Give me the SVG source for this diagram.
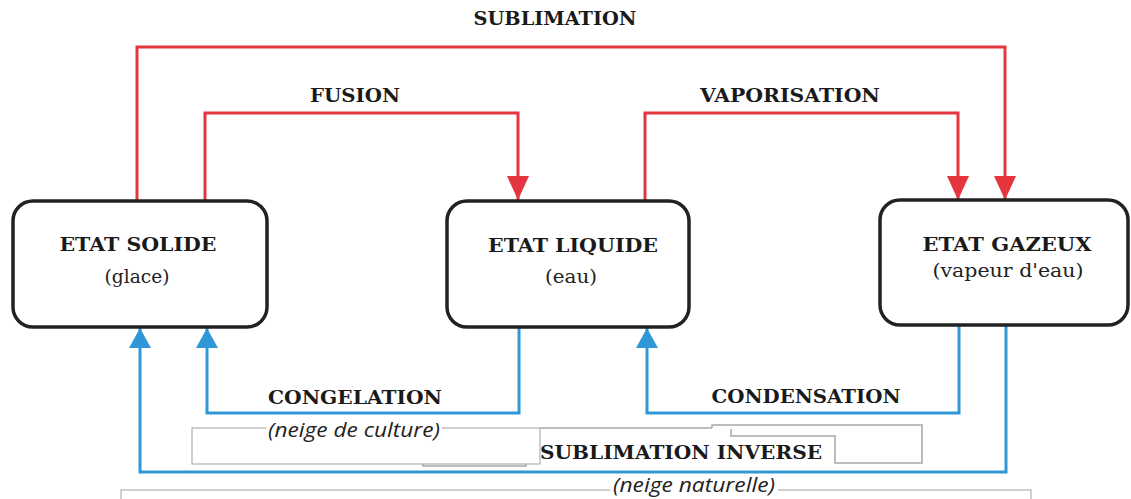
<svg xmlns="http://www.w3.org/2000/svg" width="1131" height="499" viewBox="0 0 1131 499">
<style>
.box{fill:#fff;stroke:#222;stroke-width:3.5}
.t{font-family:"DejaVu Serif","Liberation Serif",serif;font-weight:bold;font-size:18.5px;fill:#1a1a1a;text-anchor:middle}
.s{font-family:"DejaVu Serif","Liberation Serif",serif;font-size:19px;fill:#222;text-anchor:middle}
.i{font-family:"Open Sans","Noto Sans",sans-serif;font-style:italic;font-size:20px;fill:#222;text-anchor:middle}
.red{fill:none;stroke:#e5353f;stroke-width:3}
.blue{fill:none;stroke:#2f97d6;stroke-width:3}
.grey{fill:#fff;stroke:#b0b0b0;stroke-width:1.2}
.gl{fill:none;stroke:#a8a8a8;stroke-width:1.5}
</style>
<defs>
<marker id="ar" markerUnits="userSpaceOnUse" markerWidth="24" markerHeight="22" viewBox="0 0 24 22" refX="24" refY="11" orient="auto">
<path d="M0,0 L24,11 L0,22 Z" fill="#e5353f"/>
</marker>
<marker id="ab" markerUnits="userSpaceOnUse" markerWidth="20" markerHeight="22" viewBox="0 0 20 22" refX="20" refY="11" orient="auto">
<path d="M0,0 L20,11 L0,22 Z" fill="#2f97d6"/>
</marker>
</defs>
<rect width="1131" height="499" fill="#fff"/>

<g id="covers">
<rect class="grey" x="121" y="490" width="910" height="20"/>
<rect class="grey" x="192" y="428" width="348" height="36"/>
<polyline class="gl" points="423,464 423,466 526,466 526,464"/>
<line class="gl" x1="540" y1="428" x2="712" y2="428"/>
<polyline class="gl" points="712,428 712,425 922,425 922,463 835,463 835,436 731,436 731,429"/>
</g>

<g id="connectors">
<path class="red" d="M137,201 V47 H1005 V200" marker-end="url(#ar)"/>
<path class="red" d="M205,201 V113 H518 V200" marker-end="url(#ar)"/>
<path class="red" d="M645,201 V113 H958 V200" marker-end="url(#ar)"/>
<path class="blue" d="M519,327 V413 H207 V328" marker-end="url(#ab)"/>
<path class="blue" d="M959,325 V413 H647 V328" marker-end="url(#ab)"/>
<path class="blue" d="M1006,325 V472 H140 V328" marker-end="url(#ab)"/>
</g>

<g id="labels">
<text class="t" x="555" y="25" textLength="163" lengthAdjust="spacingAndGlyphs">SUBLIMATION</text>
<text class="t" x="355" y="102" textLength="90" lengthAdjust="spacingAndGlyphs">FUSION</text>
<text class="t" x="790" y="102" textLength="180" lengthAdjust="spacingAndGlyphs">VAPORISATION</text>
<text class="t" x="355" y="404" textLength="174" lengthAdjust="spacingAndGlyphs">CONGELATION</text>
<text class="t" x="806" y="403" textLength="189" lengthAdjust="spacingAndGlyphs">CONDENSATION</text>
<text class="t" x="681" y="459" textLength="282" lengthAdjust="spacingAndGlyphs">SUBLIMATION INVERSE</text>
<rect x="266" y="424" width="176" height="8" fill="#fff"/>
<text class="i" x="354" y="437" textLength="172" lengthAdjust="spacingAndGlyphs">(neige de culture)</text>
<rect x="610" y="486" width="168" height="7" fill="#fff"/>
<text class="i" x="694" y="492" textLength="162" lengthAdjust="spacingAndGlyphs">(neige naturelle)</text>
</g>

<g id="solide">
<rect class="box" x="13" y="201" width="254" height="126" rx="20"/>
<text class="t" x="138" y="251" textLength="157" lengthAdjust="spacingAndGlyphs">ETAT SOLIDE</text>
<text class="s" x="137" y="283" textLength="65" lengthAdjust="spacingAndGlyphs">(glace)</text>
</g>

<g id="liquide">
<rect class="box" x="447" y="201" width="242" height="126" rx="20"/>
<text class="t" x="573" y="252" textLength="170" lengthAdjust="spacingAndGlyphs">ETAT LIQUIDE</text>
<text class="s" x="571" y="283" textLength="52" lengthAdjust="spacingAndGlyphs">(eau)</text>
</g>

<g id="gazeux">
<rect class="box" x="880" y="200" width="248" height="125" rx="20"/>
<text class="t" x="1007" y="251" textLength="169" lengthAdjust="spacingAndGlyphs">ETAT GAZEUX</text>
<text class="s" x="1008" y="277" textLength="151" lengthAdjust="spacingAndGlyphs">(vapeur d'eau)</text>
</g>
</svg>
